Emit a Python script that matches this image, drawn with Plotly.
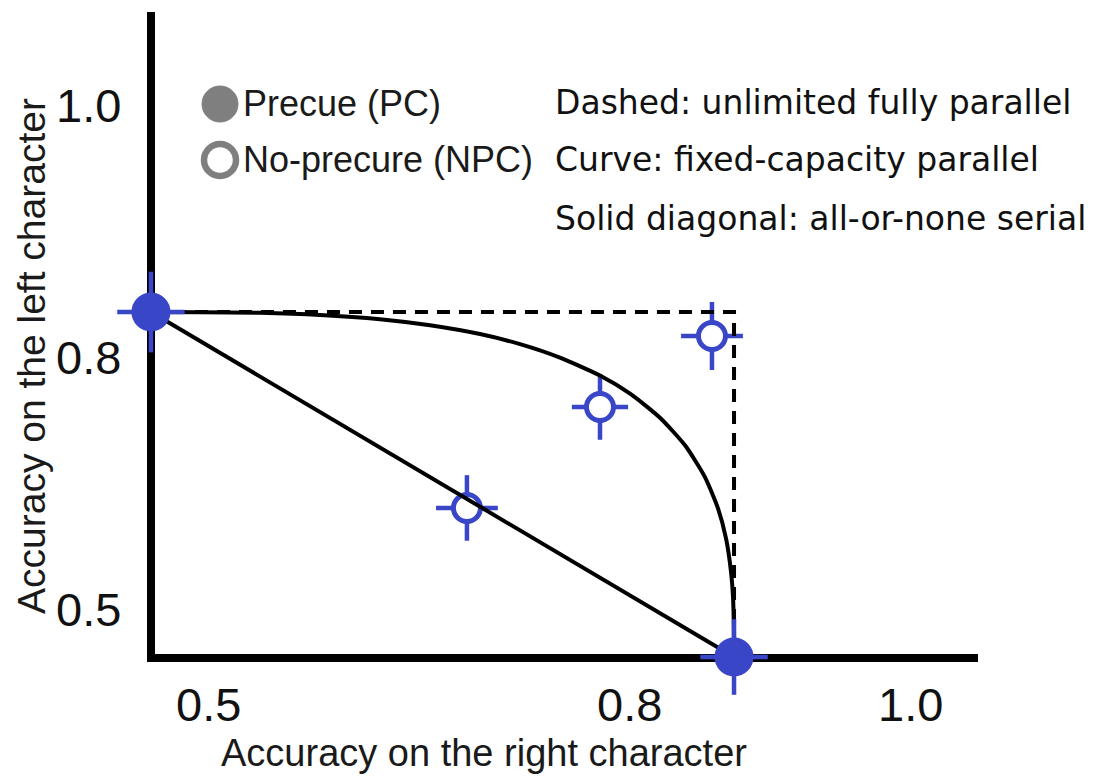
import plotly.graph_objects as go

# ---------------- data ----------------
pc_x = [0.4594, 0.8744]          # Precue (PC) points
pc_y = [0.8357, 0.5619]
pc_err_x = [0.024, 0.024]
pc_err_y = [0.032, 0.030]

npc_x = [0.6843, 0.7790, 0.8587]  # No-precue (NPC) points
npc_y = [0.6802, 0.7603, 0.8167]
npc_err_x = [0.022, 0.020, 0.022]
npc_err_y = [0.026, 0.026, 0.027]

# fixed-capacity parallel curve
curve_x = [0.4594, 0.4943, 0.5370, 0.5797, 0.6224, 0.6580, 0.6936, 0.7221,
           0.7505, 0.7790, 0.8004, 0.8217, 0.8395, 0.8537, 0.8630, 0.8687,
           0.8722, 0.8737, 0.8742, 0.8744]
curve_y = [0.8357, 0.8356, 0.8351, 0.8334, 0.8300, 0.8252, 0.8182, 0.8102,
           0.7995, 0.7853, 0.7709, 0.7518, 0.7299, 0.7047, 0.6798, 0.6560,
           0.6299, 0.6091, 0.5897, 0.5619]

x_tick_vals = [0.5, 0.8, 1.0]
x_tick_text = ["0.5", "0.8", "1.0"]
y_tick_vals = [0.6, 0.8, 1.0]
y_tick_text = ["0.5", "0.8", "1.0"]

x_title = "Accuracy on the right character"
y_title = "Accuracy on the left character"
legend_labels = ["Precue (PC)", "No-precure (NPC)"]
notes = ["Dashed: unlimited fully parallel",
         "Curve: fixed-capacity parallel",
         "Solid diagonal: all-or-none serial"]

# ---------------- layout geometry ----------------
W, H = 1108, 776
BLUE = "#3a46c8"
GRAY = "#7f7f7f"
MAIN_FONT = "Liberation Sans, Arial, sans-serif"
NOTE_FONT = "DejaVu Sans, sans-serif"

# pixel anchors of the scale (x: 0.5 -> 208 px, 1405 px/unit; y: 0.8 -> 357 px, 1260 px/unit)
X0_PX, X_SCALE = 208, 1405
Y0_PX, Y_SCALE = 357, 1260
x_range = [0.5 - X0_PX / X_SCALE, 0.5 + (W - X0_PX) / X_SCALE]
y_range = [0.8 - (H - Y0_PX) / Y_SCALE, 0.8 + Y0_PX / Y_SCALE]


def px(xp):
    return xp / W


def py(yp):
    return 1 - yp / H


fig = go.Figure()

# NPC markers (below the model lines)
fig.add_trace(go.Scatter(
    x=npc_x, y=npc_y, mode="markers", showlegend=False,
    marker=dict(symbol="circle", size=27, color="white",
                line=dict(color=BLUE, width=5)),
    error_x=dict(type="data", array=npc_err_x, thickness=4.5, width=0, color=BLUE),
    error_y=dict(type="data", array=npc_err_y, thickness=4.5, width=0, color=BLUE),
))

# dashed: unlimited fully parallel (corner defined by the two PC points)
fig.add_trace(go.Scatter(
    x=[pc_x[0], pc_x[1], pc_x[1]], y=[pc_y[0], pc_y[0], pc_y[1]],
    mode="lines", showlegend=False,
    line=dict(color="black", width=4, dash="13px,9px"),
))

# curve: fixed-capacity parallel
fig.add_trace(go.Scatter(
    x=curve_x, y=curve_y, mode="lines", showlegend=False,
    line=dict(color="black", width=4, shape="spline", smoothing=0.6),
))

# solid diagonal: all-or-none serial
fig.add_trace(go.Scatter(
    x=pc_x, y=pc_y, mode="lines", showlegend=False,
    line=dict(color="black", width=4),
))

# PC markers (on top)
fig.add_trace(go.Scatter(
    x=pc_x, y=pc_y, mode="markers", showlegend=False,
    marker=dict(symbol="circle", size=37, color=BLUE,
                line=dict(color=BLUE, width=2)),
    error_x=dict(type="data", array=pc_err_x, thickness=4.5, width=0, color=BLUE),
    error_y=dict(type="data", array=pc_err_y, thickness=4.5, width=0, color=BLUE),
))

# axis lines drawn as thick black strokes
shapes = [
    dict(type="line", xref="paper", yref="paper", x0=px(151), x1=px(151),
         y0=py(662), y1=py(12), line=dict(color="black", width=8),
         layer="below"),
    dict(type="line", xref="paper", yref="paper", x0=px(147), x1=px(978),
         y0=py(658), y1=py(658), line=dict(color="black", width=8),
         layer="below"),
    # legend symbols
    dict(type="circle", xref="paper", yref="paper",
         x0=px(220 - 18), x1=px(220 + 18), y0=py(104 + 18), y1=py(104 - 18),
         fillcolor=GRAY, line=dict(color=GRAY, width=1), layer="above"),
    dict(type="circle", xref="paper", yref="paper",
         x0=px(220 - 16), x1=px(220 + 16), y0=py(160 + 16), y1=py(160 - 16),
         fillcolor="white", line=dict(color=GRAY, width=6.5), layer="above"),
]

annotations = []
# tick labels, placed through the data axes
for v, t in zip(x_tick_vals, x_tick_text):
    annotations.append(dict(
        text=t, xref="x", yref="paper", x=v, y=py(704),
        xanchor="center", yanchor="middle", showarrow=False,
        font=dict(family=MAIN_FONT, size=47, color="#111111")))
for v, t in zip(y_tick_vals, y_tick_text):
    annotations.append(dict(
        text=t, xref="paper", yref="y", x=px(123), y=v,
        xanchor="right", yanchor="middle", showarrow=False,
        font=dict(family=MAIN_FONT, size=47, color="#111111")))
# legend texts
for label, yy in zip(legend_labels, [104, 160]):
    annotations.append(dict(
        text=label, xref="paper", yref="paper", x=px(241), y=py(yy),
        xanchor="left", yanchor="middle", showarrow=False,
        font=dict(family=MAIN_FONT, size=36, color="#1a1a1a")))
# model notes
for note, yy in zip(notes, [103, 160, 218]):
    annotations.append(dict(
        text=note, xref="paper", yref="paper", x=px(553), y=py(yy),
        xanchor="left", yanchor="middle", showarrow=False,
        font=dict(family=NOTE_FONT, size=33, color="#111111")))
# axis titles
annotations.append(dict(
    text=x_title, xref="paper", yref="paper", x=px(484), y=py(753),
    xanchor="center", yanchor="middle", showarrow=False,
    font=dict(family=MAIN_FONT, size=38, color="#1a1a1a")))
annotations.append(dict(
    text=y_title, xref="paper", yref="paper", x=px(32), y=py(356),
    xanchor="center", yanchor="middle", showarrow=False, textangle=-90,
    font=dict(family=MAIN_FONT, size=39, color="#1a1a1a")))

fig.update_layout(
    width=W, height=H,
    margin=dict(l=0, r=0, t=0, b=0, pad=0),
    paper_bgcolor="white", plot_bgcolor="white",
    showlegend=False,
    shapes=shapes, annotations=annotations,
    xaxis=dict(range=x_range, visible=False, showgrid=False, zeroline=False),
    yaxis=dict(range=y_range, visible=False, showgrid=False, zeroline=False),
)

fig.write_html("out.html")
